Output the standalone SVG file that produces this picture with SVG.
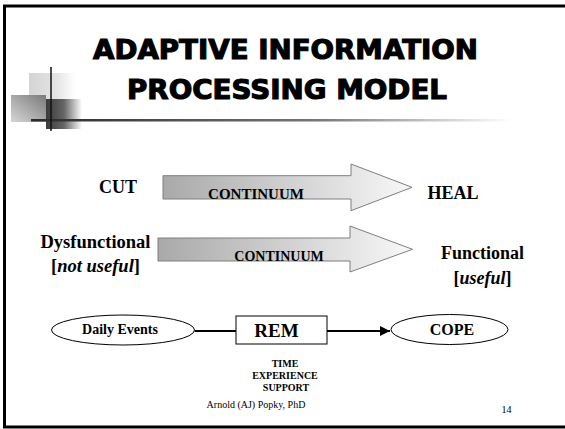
<svg xmlns="http://www.w3.org/2000/svg" width="565" height="429" viewBox="0 0 565 429">
<defs>
<linearGradient id="arrowGrad" x1="0" y1="0" x2="1" y2="0">
<stop offset="0" stop-color="#a9a9a9"/>
<stop offset="1" stop-color="#f8f8f8"/>
</linearGradient>
<linearGradient id="lineGrad" x1="0" y1="0" x2="1" y2="0">
<stop offset="0" stop-color="#2a2a2a"/>
<stop offset="0.6" stop-color="#777"/>
<stop offset="1" stop-color="#fff"/>
</linearGradient>
<linearGradient id="lightSq" x1="0" y1="0" x2="1" y2="0">
<stop offset="0" stop-color="#d4d4d4"/>
<stop offset="0.6" stop-color="#e4e4e4"/>
<stop offset="1" stop-color="#fff"/>
</linearGradient>
<linearGradient id="midSq" x1="1" y1="0" x2="0" y2="1">
<stop offset="0" stop-color="#7a7a7a"/>
<stop offset="1" stop-color="#d6d6d6"/>
</linearGradient>
<linearGradient id="darkSq" x1="0" y1="0" x2="1" y2="0">
<stop offset="0" stop-color="#3a3a3a"/>
<stop offset="0.5" stop-color="#666"/>
<stop offset="1" stop-color="#fff"/>
</linearGradient>
<marker id="arrowHead" viewBox="0 0 10 10" refX="10" refY="5" markerWidth="5" markerHeight="5" orient="auto" markerUnits="strokeWidth">
<path d="M0,0 L10,5 L0,10 Z" fill="#000"/>
</marker>
<style>
.serif{font-family:"Liberation Serif","Times New Roman",serif;font-weight:bold;fill:#000;}
.title{font-family:"DejaVu Sans","Liberation Sans",sans-serif;font-weight:bold;font-size:26px;fill:#000;stroke:#000;stroke-width:1.1;text-anchor:middle;}
.arrow{fill:url(#arrowGrad);stroke:#7f7f7f;stroke-width:1;}
.node{fill:#fff;stroke:#000;stroke-width:1;}
.conn{stroke:#000;stroke-width:2;fill:none;}
</style>
</defs>
<rect width="565" height="429" fill="#fff"/>
<g id="frame">
<line x1="3" y1="6" x2="565" y2="6" stroke="#000" stroke-width="3"/>
<line x1="4.5" y1="5" x2="4.5" y2="428" stroke="#000" stroke-width="3"/>
<line x1="3" y1="427" x2="565" y2="427" stroke="#000" stroke-width="3"/>
</g>
<g id="decoration">
<rect x="29" y="73" width="46" height="27" fill="url(#lightSq)"/>
<rect x="11" y="95" width="35" height="27" fill="url(#midSq)"/>
<rect x="46" y="99" width="36" height="30" fill="url(#darkSq)"/>
<rect x="31" y="119" width="480" height="2.5" fill="url(#lineGrad)"/>
<line x1="51" y1="67" x2="51" y2="131" stroke="#111" stroke-width="1.5"/>
</g>
<g id="title">
<text class="title" x="285.5" y="59" textLength="385" lengthAdjust="spacingAndGlyphs">ADAPTIVE INFORMATION</text>
<text class="title" x="287" y="99" textLength="320" lengthAdjust="spacingAndGlyphs">PROCESSING MODEL</text>
</g>
<g id="row1">
<text class="serif" x="118" y="193" font-size="18" text-anchor="middle">CUT</text>
<path class="arrow" d="M163,175.7 L351,175.7 L351,164 L412,187.3 L351,210.7 L351,199 L163,199 Z"/>
<text class="serif" x="256" y="199" font-size="15" text-anchor="middle">CONTINUUM</text>
<text class="serif" x="453" y="199" font-size="18" text-anchor="middle">HEAL</text>
</g>
<g id="row2">
<text class="serif" x="95.5" y="248" font-size="18.5" text-anchor="middle">Dysfunctional</text>
<text class="serif" x="95.5" y="272" font-size="18.5" text-anchor="middle">[<tspan font-style="italic">not useful</tspan>]</text>
<path class="arrow" d="M158,238 L350,238 L350,226 L412.5,249.3 L350,272 L350,261 L158,261 Z"/>
<text class="serif" x="279" y="260.5" font-size="14" text-anchor="middle">CONTINUUM</text>
<text class="serif" x="482.5" y="259" font-size="18" text-anchor="middle">Functional</text>
<text class="serif" x="482.5" y="284" font-size="18" text-anchor="middle">[<tspan font-style="italic">useful</tspan>]</text>
</g>
<g id="connectors">
<line class="conn" x1="194.6" y1="331" x2="236" y2="331"/>
<line class="conn" x1="327" y1="331" x2="390" y2="331" marker-end="url(#arrowHead)"/>
</g>
<g id="daily-events">
<ellipse class="node" cx="123" cy="330" rx="71.5" ry="15"/>
<text class="serif" x="120" y="334" font-size="14" text-anchor="middle">Daily Events</text>
</g>
<g id="rem">
<rect class="node" x="236" y="316" width="91" height="28"/>
<text class="serif" x="276.5" y="337" font-size="19" text-anchor="middle">REM</text>
</g>
<g id="cope">
<ellipse class="node" cx="449.5" cy="329.5" rx="58.5" ry="15"/>
<text class="serif" x="452" y="335" font-size="16" text-anchor="middle">COPE</text>
</g>
<g id="factors">
<text class="serif" x="285" y="367" font-size="10" text-anchor="middle">TIME</text>
<text class="serif" x="285" y="379" font-size="10" text-anchor="middle">EXPERIENCE</text>
<text class="serif" x="286" y="391" font-size="10" text-anchor="middle">SUPPORT</text>
</g>
<g id="footer">
<text x="256" y="408" font-family="Liberation Serif, serif" font-size="10" text-anchor="middle">Arnold (AJ) Popky, PhD</text>
<text x="506.5" y="413" font-family="Liberation Serif, serif" font-size="10" text-anchor="middle">14</text>
</g>
</svg>
